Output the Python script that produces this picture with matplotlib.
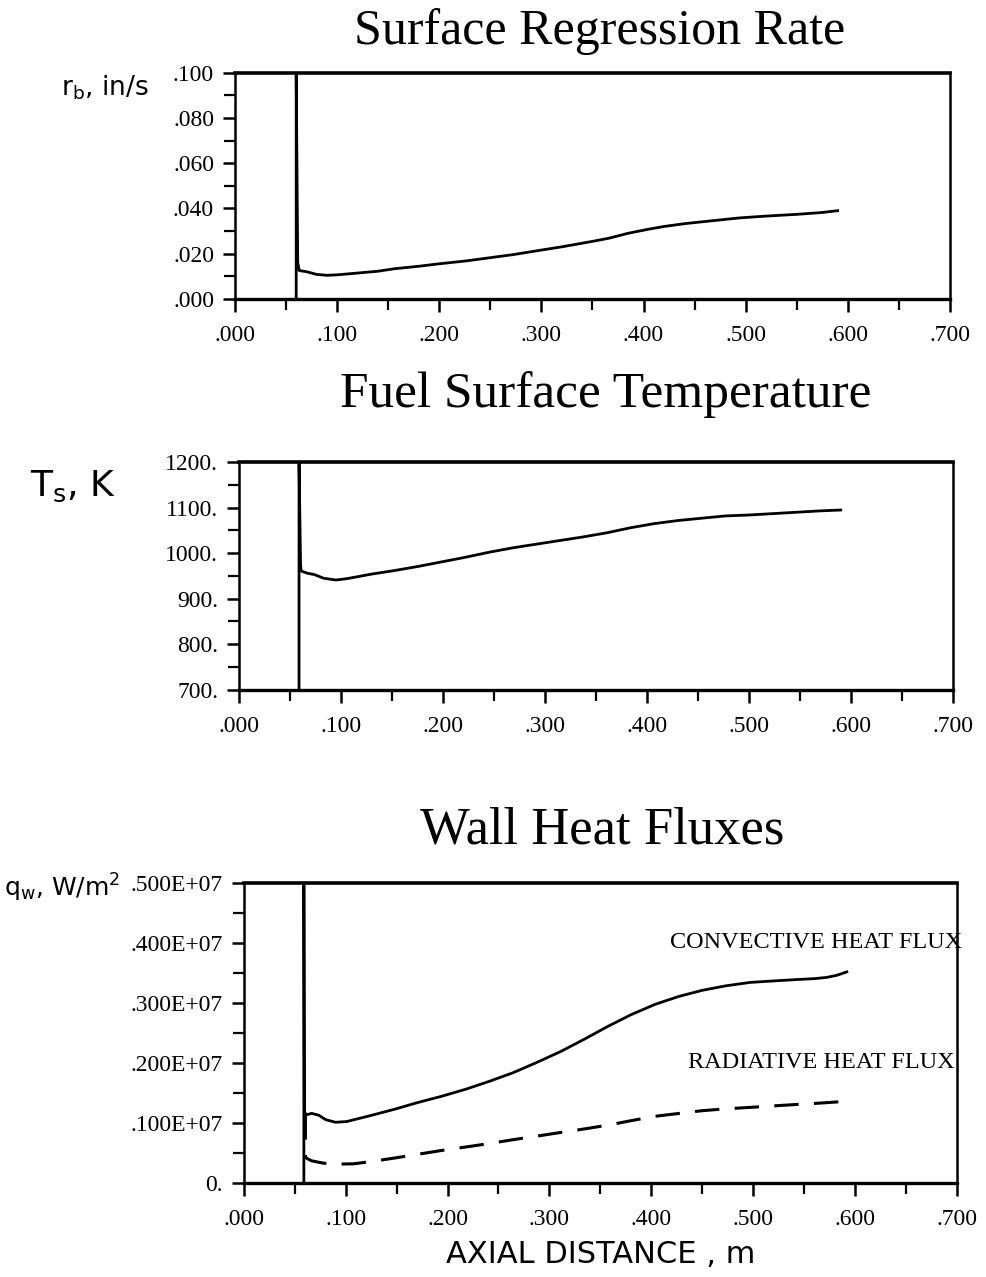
import numpy as np
import matplotlib
matplotlib.use("Agg")
import matplotlib.pyplot as plt
from matplotlib.ticker import MultipleLocator, FixedFormatter, FixedLocator

# axial positions (m) and computed profiles along the fuel grain
x_rb=[0.060,0.060,0.0615,0.063,0.070,0.080,0.090,0.100,0.120,0.140,0.156,0.180,0.200,0.227,0.250,0.273,
      0.299,0.320,0.351,0.366,0.385,0.405,0.420,0.441,0.460,0.494,0.520,0.551,0.575,0.590]
rb=[0.0,0.100,0.016,0.0125,0.0120,0.0108,0.0104,0.0106,0.0114,0.0122,0.0133,0.0144,0.0155,0.0168,0.0182,0.0196,
    0.0215,0.0230,0.0255,0.0268,0.0290,0.0308,0.0320,0.0333,0.0342,0.0358,0.0366,0.0374,0.0382,0.0390]

x_ts=[0.059,0.059,0.0605,0.061,0.067,0.074,0.083,0.095,0.106,0.130,0.153,0.176,0.199,0.222,0.245,0.269,0.292,
      0.315,0.338,0.361,0.384,0.407,0.431,0.454,0.477,0.500,0.523,0.546,0.569,0.590]
ts=[700.,1200.,975.,961.,956.,953.,945.,941.,944.,954.,962.,971.,981.,991.,1002.,1012.,1020.,
    1028.,1036.,1045.,1056.,1065.,1072.,1077.,1082.,1084.,1087.,1090.,1093.,1095.]

x_qc=[0.059,0.059,0.0595,0.061,0.0665,0.0735,0.0805,0.090,0.101,0.125,0.148,0.171,0.194,0.218,0.241,0.264,
      0.287,0.311,0.334,0.357,0.380,0.404,0.427,0.450,0.473,0.497,0.520,0.543,0.560,0.572,0.582,0.592]
q_conv=[0.0,5.0e6,1.2e6,1.134e6,1.160e6,1.130e6,1.055e6,1.012e6,1.024e6,1.126e6,1.229e6,1.342e6,1.444e6,1.563e6,
        1.694e6,1.835e6,2.004e6,2.190e6,2.393e6,2.606e6,2.803e6,2.978e6,3.108e6,3.210e6,3.285e6,3.342e6,3.367e6,
        3.390e6,3.405e6,3.425e6,3.460e6,3.517e6]

x_qr=[0.0605,0.0605,0.062,0.0665,0.078,0.092,0.108,0.125,0.148,0.171,0.194,0.218,0.241,0.264,0.287,0.311,
      0.334,0.357,0.380,0.404,0.427,0.450,0.473,0.497,0.520,0.543,0.567,0.592]
q_rad=[1.13e6,0.43e6,0.410e6,0.370e6,0.331e6,0.315e6,0.320e6,0.358e6,0.416e6,0.479e6,0.542e6,0.600e6,0.658e6,
       0.721e6,0.779e6,0.842e6,0.900e6,0.963e6,1.038e6,1.112e6,1.159e6,1.205e6,1.236e6,1.260e6,1.285e6,1.309e6,
       1.333e6,1.362e6]

xticks=[0.0,0.1,0.2,0.3,0.4,0.5,0.6,0.7]
xlabels=[".000",".100",".200",".300",".400",".500",".600",".700"]

rb_ticks=[0.0,0.02,0.04,0.06,0.08,0.1]
rb_labels=[".000",".020",".040",".060",".080",".100"]
ts_ticks=[700,800,900,1000,1100,1200]
ts_labels=["700.","800.","900.","1000.","1100.","1200."]
q_ticks=[0.0,1e6,2e6,3e6,4e6,5e6]
q_labels=["0.",".100E+07",".200E+07",".300E+07",".400E+07",".500E+07"]

plt.rcParams['font.family']=['Liberation Serif','DejaVu Serif']
plt.rcParams['font.size']=15
plt.rcParams['lines.solid_joinstyle']='round'
plt.rcParams['lines.dash_joinstyle']='round'

fig=plt.figure(figsize=(9.87,12.77),dpi=100)

def frame(ax,yt,yl,ymin,ymax,yminor):
    ax.set_xlim(0,0.7)
    ax.set_ylim(ymin,ymax)
    ax.xaxis.set_major_locator(FixedLocator(xticks))
    ax.xaxis.set_major_formatter(FixedFormatter(xlabels))
    ax.xaxis.set_minor_locator(MultipleLocator(0.05))
    ax.yaxis.set_major_locator(FixedLocator(yt))
    ax.yaxis.set_major_formatter(FixedFormatter(yl))
    ax.yaxis.set_minor_locator(MultipleLocator(yminor))
    ax.tick_params(which='major',direction='out',length=9,width=1.8,labelsize=17)
    ax.tick_params(which='minor',direction='out',length=8,width=1.6)
    ax.tick_params(axis='x',pad=10)
    ax.tick_params(axis='y',pad=6)
    for s in ax.spines.values():
        s.set_linewidth(1.8)
    ax.spines['top'].set_linewidth(2.6)
    ax.spines['bottom'].set_linewidth(2.4)

# regression rate
ax1=fig.add_axes([0.238,0.766,0.7245,0.177])
ax1.plot(x_rb,rb,color='black',lw=2.0)
frame(ax1,rb_ticks,rb_labels,0.0,0.1,0.01)
fig.text(0.608,0.975,"Surface Regression Rate",ha='center',va='center',fontsize=36)
fig.text(0.062,0.931,r"r$_{\rm b}$, in/s",ha='left',va='center',fontsize=19,family='DejaVu Sans')

# surface temperature
ax2=fig.add_axes([0.242,0.460,0.7235,0.178])
ax2.plot(x_ts,ts,color='black',lw=2.0)
frame(ax2,ts_ticks,ts_labels,700,1200,50)
fig.text(0.614,0.691,"Fuel Surface Temperature",ha='center',va='center',fontsize=37)
fig.text(0.030,0.619,r"T$_{\rm s}$, K",ha='left',va='center',fontsize=26,family='DejaVu Sans')

# wall heat fluxes
ax3=fig.add_axes([0.247,0.0736,0.7224,0.235])
ax3.plot(x_qc,q_conv,color='black',lw=2.0)
ax3.plot(x_qr,q_rad,color='black',lw=2.2,dashes=(8,5))
frame(ax3,q_ticks,q_labels,0.0,5e6,0.5e6)
ax3.text(0.705,4.0e6,"CONVECTIVE HEAT FLUX",ha='right',va='center',fontsize=17.5)
ax3.text(0.698,2.0e6,"RADIATIVE HEAT FLUX",ha='right',va='center',fontsize=17.5)
fig.text(0.610,0.350,"Wall Heat Fluxes",ha='center',va='center',fontsize=38)
fig.text(0.004,0.305,r"q$_{\rm w}$, W/m$^2$",ha='left',va='center',fontsize=18,family='DejaVu Sans')
fig.text(0.609,0.018,"AXIAL DISTANCE , m",ha='center',va='center',fontsize=22,family='DejaVu Sans')

fig.savefig("out.png",dpi=100)
